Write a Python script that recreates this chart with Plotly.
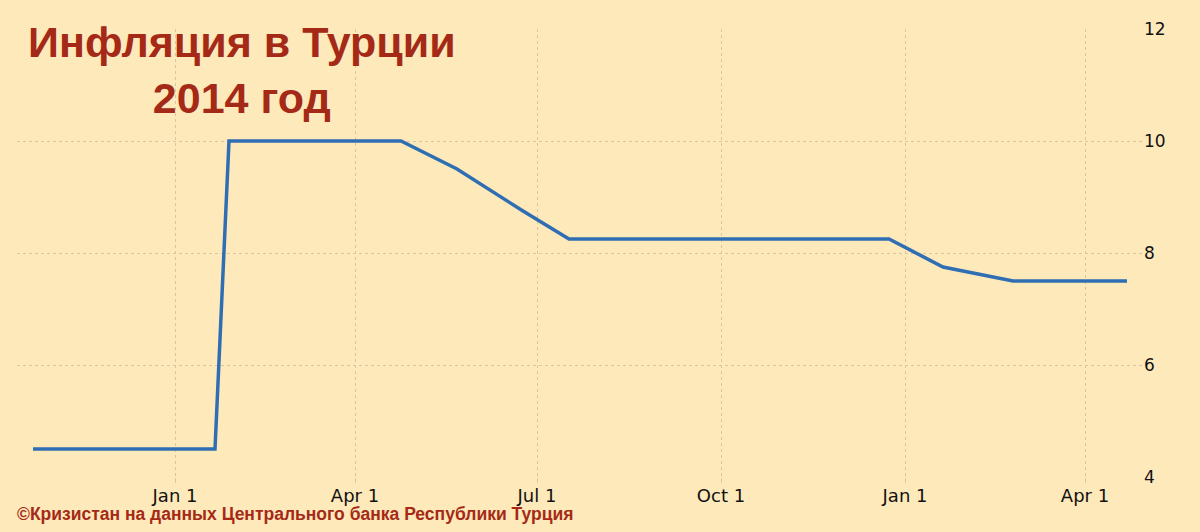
import plotly.graph_objects as go

dates = ["2013-10-22", "2013-11-19", "2013-12-17", "2014-01-21", "2014-01-28",
         "2014-02-18", "2014-03-25", "2014-04-24", "2014-05-22", "2014-06-24",
         "2014-07-17", "2014-08-21", "2014-09-23", "2014-10-21", "2014-11-25",
         "2014-12-24", "2015-01-20", "2015-02-24", "2015-03-17", "2015-04-22"]
rates = [4.5, 4.5, 4.5, 4.5, 10.0,
         10.0, 10.0, 10.0, 9.5, 8.75,
         8.25, 8.25, 8.25, 8.25, 8.25,
         8.25, 7.75, 7.5, 7.5, 7.5]

title_lines = ["Инфляция в Турции", "2014 год"]
source_text = "©Кризистан на данных Центрального банка Республики Турция"
y_ticks = [4, 6, 8, 10, 12]

BG = "#FEE9BA"
RED = "#A42A17"
GRID = "#D9C6A0"

fig = go.Figure()
fig.add_trace(go.Scatter(x=dates, y=rates, mode="lines",
                         line=dict(color="#2F6EB3", width=3.5),
                         hoverinfo="x+y", showlegend=False))

fig.update_layout(
    width=1200, height=532,
    paper_bgcolor=BG, plot_bgcolor=BG,
    margin=dict(l=17, r=57, t=29, b=55),
    font=dict(family="DejaVu Sans", size=17, color="#111111"),
    xaxis=dict(range=["2013-10-14", "2015-04-30"], type="date",
               tick0="2014-01-01", dtick="M3", tickformat="%b %-d",
               tickfont=dict(size=18), ticklabelstandoff=-3,
               showgrid=True, gridcolor=GRID, griddash="dot", gridwidth=1,
               ticks="outside", ticklen=5, tickcolor=GRID,
               zeroline=False, showline=False),
    yaxis=dict(range=[4, 12], side="right", tickvals=y_ticks,
               tickfont=dict(size=17),
               showgrid=True, gridcolor=GRID, griddash="dot", gridwidth=1,
               zeroline=False, showline=False, ticks=""),
    annotations=[
        dict(text="<br>".join(title_lines), xref="paper", yref="paper",
             x=0.2, y=1.03, xanchor="center", yanchor="top", align="center",
             showarrow=False,
             font=dict(family="Liberation Sans", size=43, color=RED, weight="bold")),
        dict(text=source_text, xref="paper", yref="paper",
             x=-0.002, y=-0.083, xanchor="left", yanchor="middle",
             showarrow=False,
             font=dict(family="Liberation Sans", size=17.5, color=RED, weight="bold")),
    ],
)

fig.write_html("out.html", config={"displayModeBar": False},
               post_script="document.body.style.margin='0';")
